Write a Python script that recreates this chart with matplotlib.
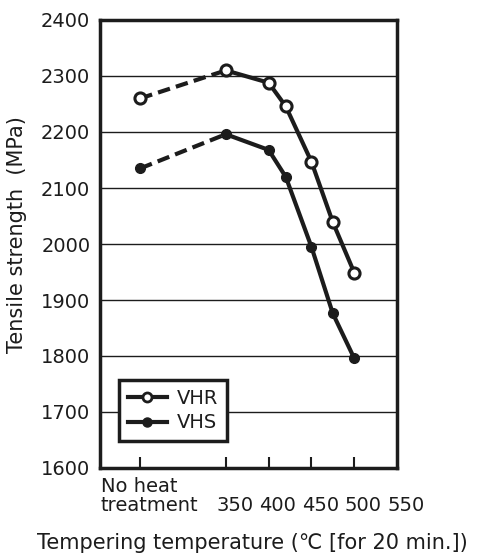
import matplotlib.pyplot as plt
from matplotlib.lines import Line2D
import matplotlib.transforms as mtransforms

plt.rcParams['font.family'] = ['DejaVu Sans', 'Noto Sans CJK JP']

# 试验温度 (No heat treatment 放在 250 的位置)
temps = [250, 350, 400, 420, 450, 475, 500]
vhr = [2260, 2310, 2288, 2246, 2147, 2039, 1949]
vhs = [2135, 2196, 2168, 2120, 1995, 1876, 1796]

tick_pos = [250, 350, 400, 450, 500, 550]
tick_lab = ['No heat\ntreatment', '350', '400', '450', '500', '550']
yticks = [1600, 1700, 1800, 1900, 2000, 2100, 2200, 2300, 2400]

ink = '#1c1c1c'
fs = 14

fig = plt.figure(figsize=(4.84, 5.59), dpi=100)
ax = fig.add_axes([100 / 484, 91 / 559, 297 / 484, 448 / 559])

for ys, face in [(vhr, 'white'), (vhs, ink)]:
    # no heat -> 350 dashed, rest solid
    ax.plot(temps[:2], ys[:2], color=ink, lw=3, dashes=(3, 1.5), solid_capstyle='butt', zorder=3)
    ax.plot(temps[1:], ys[1:], color=ink, lw=3, zorder=3)
    if face == 'white':
        ax.plot(temps, ys, ls='none', marker='o', ms=8, mfc='white', mec=ink, mew=2.2, zorder=4)
    else:
        ax.plot(temps, ys, ls='none', marker='o', ms=7, mfc=ink, mec=ink, mew=1, zorder=4)

ax.set_xlim(203, 550)
ax.set_ylim(1600, 2400)
ax.set_yticks(yticks)
ax.set_yticklabels([str(v) for v in yticks], fontsize=fs, color=ink)
ax.tick_params(axis='y', length=0, pad=7)
ax.set_xticks(tick_pos[:-1])
ax.set_xticklabels([])
ax.tick_params(axis='x', direction='in', length=8, width=1.5, color=ink)
ax.grid(axis='y', color=ink, lw=1)
ax.set_axisbelow(True)
for s in ax.spines.values():
    s.set_linewidth(2.5)
    s.set_color(ink)

trans = mtransforms.blended_transform_factory(ax.transData, ax.transAxes)
off = mtransforms.ScaledTranslation(9 / 100, 0, fig.dpi_scale_trans)
ax.text(204, -0.02, tick_lab[0], transform=trans, ha='left', va='top',
        fontsize=fs, color=ink, linespacing=1.0)
for p, lab in zip(tick_pos[1:], tick_lab[1:]):
    ax.text(p, -0.096, lab, transform=trans + off, ha='center', va='baseline',
            fontsize=fs, color=ink)

ax.set_ylabel('Tensile strength  (MPa)', fontsize=15, color=ink)
ax.yaxis.set_label_coords(-0.245, 0.52)
fig.text(252 / 484, 1 - 543 / 559, 'Tempering temperature (\u2103 [for 20 min.])',
         ha='center', va='center', fontsize=15, color=ink)

handles = [Line2D([], [], color=ink, lw=3, marker='o', ms=6.5, mfc='white', mec=ink, mew=2),
           Line2D([], [], color=ink, lw=3, marker='o', ms=6.5, mfc=ink, mec=ink, mew=1)]
leg = ax.legend(handles, ['VHR', 'VHS'], loc='lower left', bbox_to_anchor=(0.065, 0.06),
                borderaxespad=0, fontsize=fs, frameon=True, fancybox=False,
                handlelength=2.0, handletextpad=0.5, borderpad=0.45, labelspacing=0.3)
leg.get_frame().set_edgecolor(ink)
leg.get_frame().set_linewidth(2.5)
leg.get_frame().set_alpha(1)
for t in leg.get_texts():
    t.set_color(ink)

fig.savefig('out.png', dpi=100)
